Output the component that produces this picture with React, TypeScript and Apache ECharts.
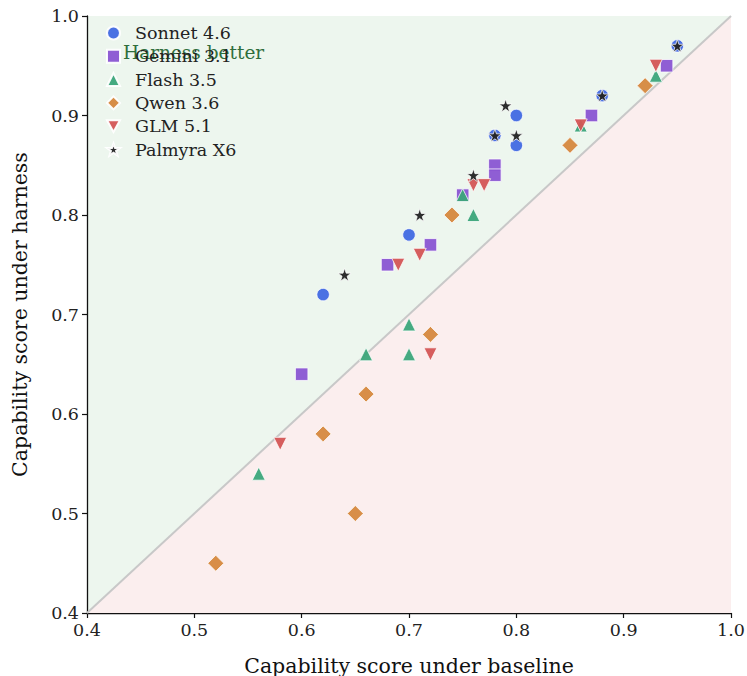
import React, { useEffect, useRef } from "react";
import * as echarts from "echarts";

const seriesNames = ["Sonnet 4.6", "Gemini 3.1", "Flash 3.5", "Qwen 3.6", "GLM 5.1", "Palmyra X6"];

const sonnet: [number, number][] = [
  [0.62, 0.72], [0.70, 0.78], [0.78, 0.88], [0.80, 0.90], [0.80, 0.87], [0.88, 0.92], [0.95, 0.97],
];
const gemini: [number, number][] = [
  [0.60, 0.64], [0.68, 0.75], [0.72, 0.77], [0.75, 0.82], [0.78, 0.85], [0.78, 0.84], [0.87, 0.90], [0.94, 0.95],
];
const flash: [number, number][] = [
  [0.56, 0.54], [0.66, 0.66], [0.70, 0.69], [0.70, 0.66], [0.75, 0.82], [0.76, 0.80], [0.86, 0.89], [0.93, 0.94],
];
const qwen: [number, number][] = [
  [0.52, 0.45], [0.65, 0.50], [0.62, 0.58], [0.66, 0.62], [0.72, 0.68], [0.74, 0.80], [0.85, 0.87], [0.92, 0.93],
];
const glm: [number, number][] = [
  [0.58, 0.57], [0.69, 0.75], [0.71, 0.76], [0.72, 0.66], [0.76, 0.83], [0.77, 0.83], [0.86, 0.89], [0.93, 0.95],
];
const palmyra: [number, number][] = [
  [0.64, 0.74], [0.71, 0.80], [0.76, 0.84], [0.78, 0.88], [0.79, 0.91], [0.80, 0.88], [0.88, 0.92], [0.95, 0.97],
];

const diagonal: [number, number][] = [[0.4, 0.4], [1.0, 1.0]];
const axisMin = 0.4;
const axisMax = 1.0;
const tickStep = 0.1;

const colors = ["#4169e1", "#8a55d2", "#3ca57a", "#d6883e", "#d45555", "#222222"];
const symbols = [
  "circle",
  "rect",
  "triangle",
  "diamond",
  "path://M0,0 L10,0 L5,9 Z",
  "path://M50,0 L61.8,35.1 L98.9,35.1 L69,56.9 L80.3,92 L50,70.5 L19.7,92 L31,56.9 L1.1,35.1 L38.2,35.1 Z",
];
const sizes = [12.5, 12.5, 13, 16, 13, 13];
const datasets = [sonnet, gemini, flash, qwen, glm, palmyra];

const FONT = "DejaVu Serif";

export default function App() {
  const ref = useRef<HTMLDivElement>(null);
  useEffect(() => {
    if (!ref.current) return;
    document.body.style.margin = "0";
    document.body.style.overflow = "hidden";
    document.documentElement.style.overflow = "hidden";
    const chart = echarts.init(ref.current, undefined, { renderer: "svg", width: 747, height: 676 });
    const scatterSeries = datasets.map((d, i) => ({
      name: seriesNames[i],
      type: "scatter" as const,
      data: d,
      symbol: symbols[i],
      symbolSize: sizes[i],
      z: 5 + i,
      itemStyle: {
        color: colors[i],
        borderColor: "#ffffff",
        borderWidth: 0.8,
        opacity: 0.95,
      },
    }));
    const axisCommon = {
      type: "value" as const,
      min: axisMin,
      max: axisMax,
      interval: tickStep,
      nameLocation: "middle" as const,
      axisLine: { show: true, onZero: false, lineStyle: { color: "#111", width: 1.3 } },
      axisTick: { show: true, length: 5, lineStyle: { color: "#111", width: 1.2 } },
      axisLabel: {
        fontFamily: FONT,
        fontSize: 17.5,
        color: "#222",
        margin: 8,
        formatter: (v: number) => v.toFixed(1),
      },
      splitLine: { show: false },
    };
    chart.setOption({
      animation: false,
      textStyle: { fontFamily: FONT },
      grid: {
        left: 87,
        top: 16,
        right: 16,
        bottom: 63,
        show: true,
        backgroundColor: "#edf6ee",
        borderWidth: 0,
        containLabel: false,
        outerBoundsMode: "none",
      },
      legend: {
        left: 101,
        top: 19,
        orient: "vertical",
        itemGap: 5.3,
        itemWidth: 13,
        itemHeight: 13,
        data: seriesNames,
        textStyle: { fontFamily: FONT, fontSize: 17.5, color: "#222", padding: [0, 0, 0, 10] },
      },
      xAxis: {
        ...axisCommon,
        name: "Capability score under baseline",
        nameGap: 42,
        nameTextStyle: { fontFamily: FONT, fontSize: 20.5, color: "#111" },
      },
      yAxis: {
        ...axisCommon,
        name: "Capability score under harness",
        nameGap: 57,
        nameTextStyle: { fontFamily: FONT, fontSize: 20.5, color: "#111" },
      },
      graphic: [
        {
          type: "text",
          left: 123,
          top: 43,
          z: 1,
          style: { text: "Harness better", fontFamily: FONT, fontSize: 18.5, fill: "#2f6e3c" },
        },
        {
          type: "text",
          left: 516,
          top: 562,
          z: 1,
          style: { text: "Harness worse", fontFamily: FONT, fontSize: 18.5, fill: "#7d2b33" },
        },
      ],
      series: [
        {
          type: "line",
          data: diagonal,
          symbol: "none",
          silent: true,
          z: 1,
          lineStyle: { color: "#c8c8c8", width: 2 },
          areaStyle: { color: "#fbeeee", opacity: 1, origin: "start" },
        },
        ...scatterSeries,
      ],
    });
    return () => chart.dispose();
  }, []);
  return <div ref={ref} style={{ width: 747, height: 676 }} />;
}
